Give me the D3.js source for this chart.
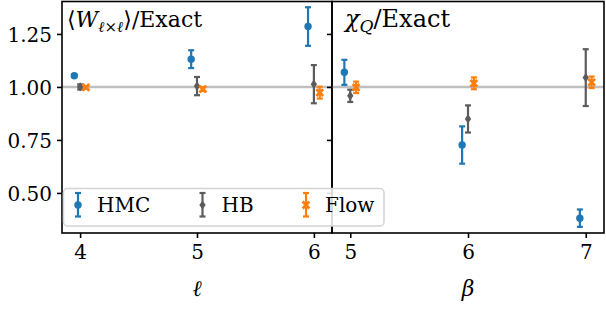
<!DOCTYPE html>
<html>
<head>
<meta charset="utf-8">
<script src="https://cdn.jsdelivr.net/npm/d3@7"></script>
<style>
  body { margin: 0; background: #fff; }
  svg text { font-family: "DejaVu Serif", serif; }
</style>
</head>
<body>
<div id="chart"></div>
<script>
// left panel: Wilson loops vs l, right panel: topological susceptibility vs beta
var ells = [4, 5, 6];
var betas = [5, 6, 7];

var wHmc = [1.053, 1.131, 1.285];
var wHmcErr = [0.006, 0.042, 0.091];
var wHb = [1.0, 1.004, 1.013];
var wHbErr = [0.012, 0.043, 0.09];
var wFlow = [0.998, 0.99, 0.973];
var wFlowErr = [0.006, 0.009, 0.028];

var chiHmc = [1.069, 0.726, 0.381];
var chiHmcErr = [0.059, 0.088, 0.041];
var chiHb = [0.958, 0.849, 1.044];
var chiHbErr = [0.029, 0.064, 0.134];
var chiFlow = [0.998, 1.017, 1.022];
var chiFlowErr = [0.027, 0.028, 0.027];

var yTicks = [0.5, 0.75, 1.0, 1.25];
var seriesNames = ["HMC", "HB", "Flow"];
var offsets = [-0.05, 0, 0.05];

var colors = { HMC: "#1f77b4", HB: "#5c5c5c", Flow: "#ff7f0e" };
var serif = "DejaVu Serif";

var width = 606, height = 310;
var plotTop = 1.5, plotBottom = 233;

var svg = d3.select("#chart").append("svg")
    .attr("width", width)
    .attr("height", height)
    .attr("font-family", serif);

var y = d3.scaleLinear().domain([0.311, 1.403]).range([plotBottom, plotTop]);

var panels = [
    { xs: ells, x: d3.scaleLinear().domain([3.845, 6.155]).range([62, 332]),
      data: [[wHmc, wHmcErr], [wHb, wHbErr], [wFlow, wFlowErr]], label: "ℓ", labels: true },
    { xs: betas, x: d3.scaleLinear().domain([4.845, 7.155]).range([332, 604]),
      data: [[chiHmc, chiHmcErr], [chiHb, chiHbErr], [chiFlow, chiFlowErr]], label: "β", labels: false }
];

function drawMarker(g, name, cx, cy) {
    var c = colors[name];
    if (name === "HMC") {
        g.append("circle").attr("cx", cx).attr("cy", cy).attr("r", 3.7).attr("fill", c);
    } else if (name === "HB") {
        g.append("path")
            .attr("d", "M" + cx + "," + (cy - 4.6) + "L" + (cx + 3.2) + "," + cy + "L" + cx + "," + (cy + 4.6) + "L" + (cx - 3.2) + "," + cy + "Z")
            .attr("fill", c);
    } else {
        var s = 3.4;
        g.append("path")
            .attr("d", "M" + (cx - s) + "," + (cy - s) + "L" + (cx + s) + "," + (cy + s) + "M" + (cx - s) + "," + (cy + s) + "L" + (cx + s) + "," + (cy - s))
            .attr("stroke", c).attr("stroke-width", 2.8).attr("fill", "none");
    }
}

function drawErr(g, name, cx, y0, y1) {
    var c = colors[name];
    g.append("line").attr("x1", cx).attr("x2", cx).attr("y1", y0).attr("y2", y1)
        .attr("stroke", c).attr("stroke-width", 2.2);
    [y0, y1].forEach(function (yy) {
        g.append("line").attr("x1", cx - 3).attr("x2", cx + 3).attr("y1", yy).attr("y2", yy)
            .attr("stroke", c).attr("stroke-width", 2.2);
    });
}

panels.forEach(function (p) {
    var g = svg.append("g");
    var x = p.x;

    // reference line at 1
    g.append("line")
        .attr("x1", x.range()[0]).attr("x2", x.range()[1])
        .attr("y1", y(1)).attr("y2", y(1))
        .attr("stroke", "#bfbfbf").attr("stroke-width", 2.5);

    p.data.forEach(function (s, si) {
        var name = seriesNames[si];
        var vals = s[0], errs = s[1];
        p.xs.forEach(function (xv, i) {
            var cx = x(xv + offsets[si]);
            drawErr(g, name, cx, y(vals[i] + errs[i]), y(vals[i] - errs[i]));
            drawMarker(g, name, cx, y(vals[i]));
        });
    });

    // axes
    var yAxis = d3.axisLeft(y).tickValues(yTicks).tickSize(5).tickPadding(5)
        .tickFormat(p.labels ? d3.format(".2f") : "");
    var ya = g.append("g").attr("transform", "translate(" + x.range()[0] + ",0)").call(yAxis)
        .attr("font-family", serif).attr("font-size", 20);
    ya.select(".domain").remove();
    ya.selectAll("line").attr("stroke-width", 1.6);
    ya.selectAll("text").attr("dy", "0.36em");

    var xAxis = d3.axisBottom(x).tickValues(p.xs).tickSize(5).tickPadding(6).tickFormat(d3.format("d"));
    var xa = g.append("g").attr("transform", "translate(0," + plotBottom + ")").call(xAxis)
        .attr("font-family", serif).attr("font-size", 20);
    xa.select(".domain").remove();
    xa.selectAll("line").attr("stroke-width", 1.6);
    xa.selectAll("text").attr("dy", "0.75em");

    g.append("text")
        .attr("x", x(p.xs[1])).attr("y", 296)
        .attr("text-anchor", "middle")
        .attr("font-size", 22).attr("font-style", "italic")
        .text(p.label);

    g.append("rect")
        .attr("x", x.range()[0]).attr("y", plotTop)
        .attr("width", x.range()[1] - x.range()[0]).attr("height", plotBottom - plotTop)
        .attr("fill", "none").attr("stroke", "#000").attr("stroke-width", 1.6);
});

// titles
var t1 = svg.append("text").attr("x", 67).attr("y", 27).attr("font-size", 22);
t1.append("tspan").text("⟨");
t1.append("tspan").attr("font-style", "italic").text("W");
t1.append("tspan").attr("dy", 5).attr("font-size", 15).attr("font-style", "italic").text("ℓ×ℓ");
t1.append("tspan").attr("dy", -5).text("⟩/Exact");

var t2 = svg.append("text").attr("x", 345).attr("y", 27).attr("font-size", 24);
t2.append("tspan").attr("font-style", "italic").text("χ");
t2.append("tspan").attr("dy", 5).attr("font-size", 17).attr("font-style", "italic").text("Q");
t2.append("tspan").attr("dy", -5).text("/Exact");

// legend
var leg = svg.append("g");
leg.append("rect")
    .attr("x", 63.5).attr("y", 188.5).attr("width", 320.5).attr("height", 37.5)
    .attr("rx", 4).attr("fill", "#fff").attr("fill-opacity", 0.85)
    .attr("stroke", "#d4d4d4").attr("stroke-width", 1.5);
var legX = [78, 202.5, 306];
seriesNames.forEach(function (name, i) {
    drawErr(leg, name, legX[i], 193, 216.5);
    drawMarker(leg, name, legX[i], 205);
    leg.append("text")
        .attr("x", legX[i] + 19).attr("y", 212)
        .attr("font-size", 20)
        .text(name);
});
</script>
</body>
</html>
